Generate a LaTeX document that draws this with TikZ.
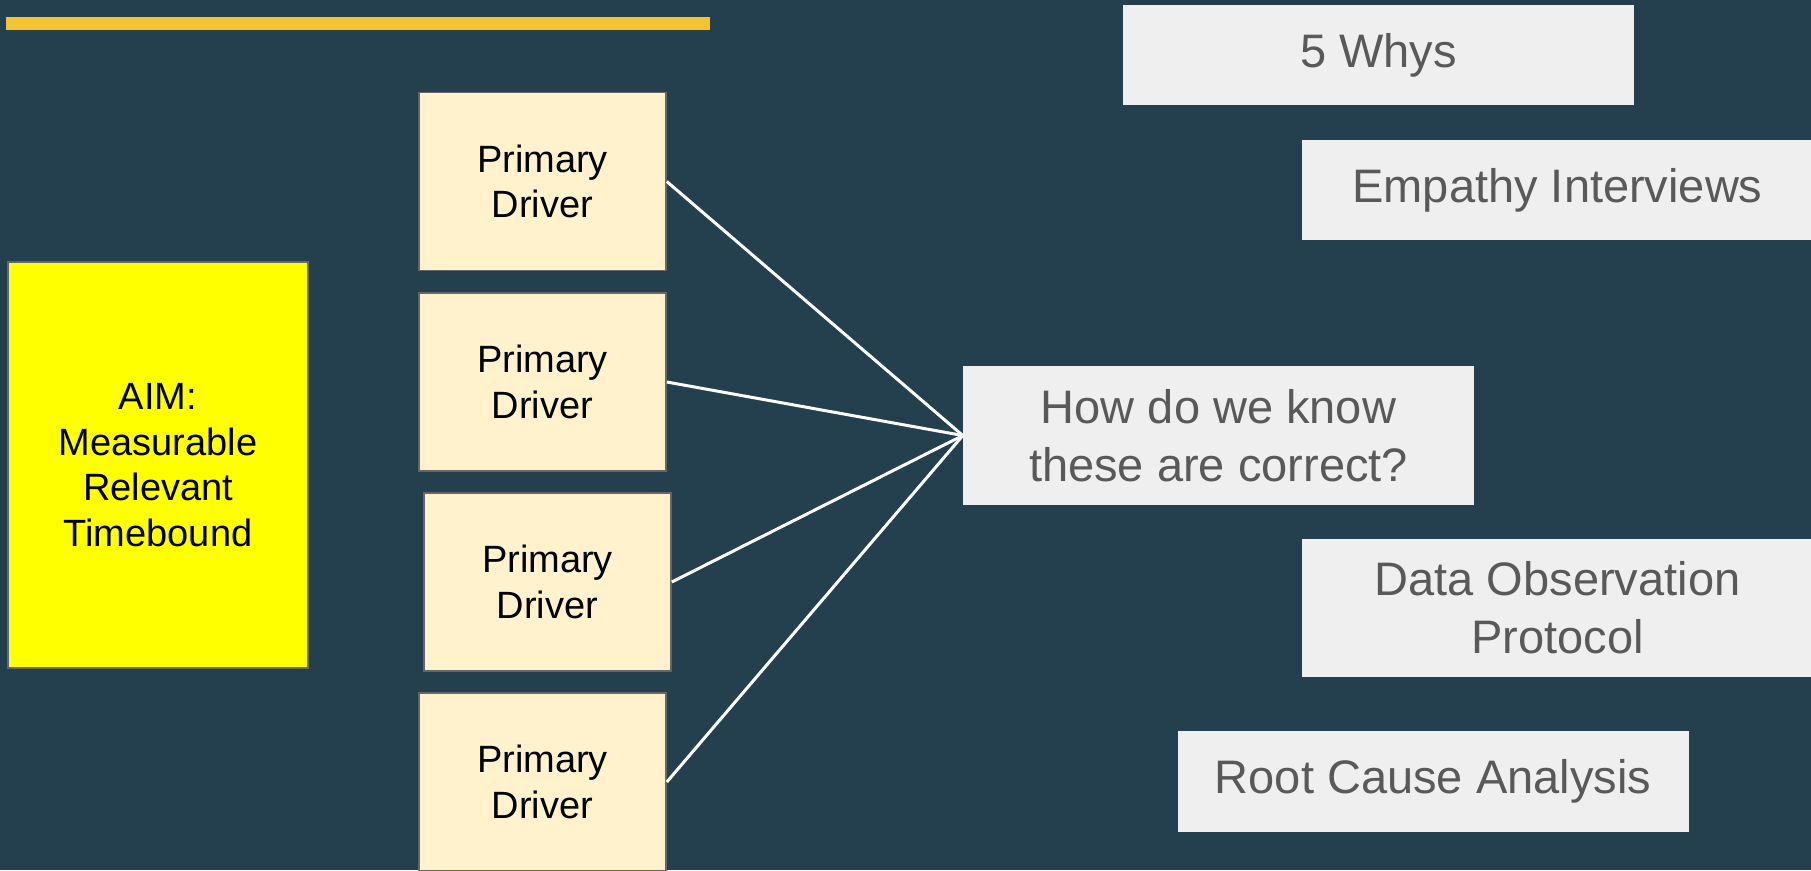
\documentclass[tikz,border=0pt]{standalone}
\usepackage{fontspec}
\setmainfont{Liberation Sans}
\definecolor{bg}{HTML}{24404F}
\definecolor{barcol}{HTML}{F3C332}
\definecolor{aimfill}{HTML}{FFFF00}
\definecolor{drvfill}{HTML}{FFF2CC}
\definecolor{edge}{HTML}{666666}
\definecolor{grayfill}{HTML}{EFEFEF}
\definecolor{graytext}{HTML}{595959}
\tikzset{
  aimbox/.style={draw=edge, line width=1.6pt, fill=aimfill, inner sep=0pt,
    minimum width=300pt, minimum height=406pt, align=center,
    font=\fontsize{38}{45.6}\selectfont},
  drvbox/.style={draw=edge, line width=1.6pt, fill=drvfill, inner sep=0pt,
    minimum width=247pt, minimum height=178pt, align=center,
    font=\fontsize{38}{45.6}\selectfont},
  methodbox/.style={fill=grayfill, text=graytext, inner sep=0pt,
    minimum width=511pt, align=center,
    font=\fontsize{47}{58}\selectfont},
  link/.style={draw=white, line width=3pt}
}
\begin{document}
\begin{tikzpicture}[x=1pt,y=-1pt]
  % page and background
  \fill[bg] (0,0) rectangle (1811,870);
  \useasboundingbox (0,0) rectangle (1811,870);
  % title accent bar
  \fill[barcol] (6,17) rectangle (710,30);

  % aim
  \node[aimbox] (aim) at (158,465) {AIM:\\Measurable\\Relevant\\Timebound};

  % primary drivers
  \node[drvbox] (d1) at (542.5,181.5) {Primary\\Driver};
  \node[drvbox] (d2) at (542.5,382) {Primary\\Driver};
  \node[drvbox] (d3) at (547.5,582) {Primary\\Driver};
  \node[drvbox] (d4) at (542.5,782) {Primary\\Driver};

  % question and methods
  \node[methodbox, minimum height=139pt] (q) at (1218.5,435.5) {How do we know\\these are correct?};
  \node[methodbox, minimum height=100pt] (why) at (1378.5,55) {5 Whys};
  \node[methodbox, minimum height=100pt] (emp) at (1557.5,190) {Empathy Interviews};
  \node[methodbox, minimum height=138pt] (obs) at (1557.5,608) {Data Observation\\Protocol};
  \node[methodbox, minimum height=101pt] (rca) at (1433,781.5) {Root Cause Analysis};

  % connectors from drivers to the question
  \foreach \d in {d1,d2,d3,d4}
    \draw[link] (\d.east) -- (q.west);
\end{tikzpicture}
\end{document}
